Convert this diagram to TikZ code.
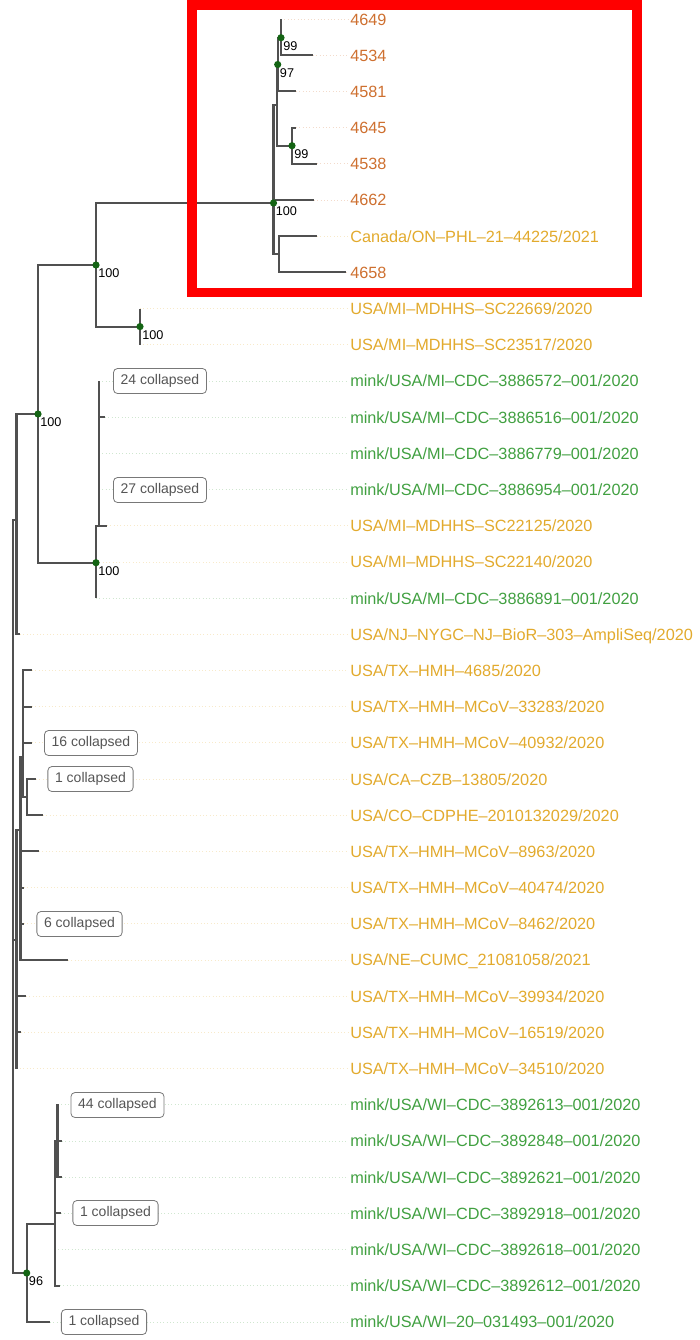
\documentclass[tikz,border=0pt]{standalone}
\usepackage{fontspec}
\setmainfont{Liberation Sans}
\usetikzlibrary{calc,positioning}
\definecolor{tipor}{RGB}{206,112,48}
\definecolor{tipgo}{RGB}{226,170,45}
\definecolor{tipgr}{RGB}{65,160,65}
\definecolor{branchc}{RGB}{80,80,80}
\definecolor{dotc}{RGB}{20,100,20}
\definecolor{boxc}{RGB}{120,120,120}
\definecolor{boxtext}{RGB}{85,85,85}

\begin{document}
\begin{tikzpicture}[x=0.75pt,y=-0.75pt]
  \useasboundingbox (0,0) rectangle (700,1340);
  \tikzstyle{branch}=[draw=branchc, line width=1.6pt]
  \tikzstyle{leader}=[dotted, line width=0.5pt]
  \tikzstyle{tiplabel}=[anchor=base west, inner xsep=1.5pt, font=\fontsize{12.2}{14}\selectfont]
  \tikzstyle{bslabel}=[inner sep=0pt, font=\fontsize{9.5}{11}\selectfont]
  \tikzstyle{collbox}=[draw=boxc, line width=0.6pt, rounded corners=3pt, fill=white,
    text=boxtext, inner xsep=5.4pt, minimum height=18.75pt, font=\fontsize{10.5}{12}\selectfont]
  \tikzstyle{redbox}=[draw=red, line width=7.1pt]
  % tips and their labels
  \foreach \i/\tx/\col/\txt in {
    0/281/tipor/4649, 1/313/tipor/4534, 2/296/tipor/4581, 3/296/tipor/4645,
    4/317/tipor/4538, 5/314/tipor/4662, 6/317/tipgo/{Canada/ON--PHL--21--44225/2021},
    7/346/tipor/4658, 8/140/tipgo/{USA/MI--MDHHS--SC22669/2020},
    9/140/tipgo/{USA/MI--MDHHS--SC23517/2020},
    10/99/tipgr/{mink/USA/MI--CDC--3886572--001/2020},
    11/105/tipgr/{mink/USA/MI--CDC--3886516--001/2020},
    12/99/tipgr/{mink/USA/MI--CDC--3886779--001/2020},
    13/99/tipgr/{mink/USA/MI--CDC--3886954--001/2020},
    14/107/tipgo/{USA/MI--MDHHS--SC22125/2020},
    15/96/tipgo/{USA/MI--MDHHS--SC22140/2020},
    16/96/tipgr/{mink/USA/MI--CDC--3886891--001/2020},
    17/20/tipgo/{USA/NJ--NYGC--NJ--BioR--303--AmpliSeq/2020},
    18/32/tipgo/{USA/TX--HMH--4685/2020},
    19/32/tipgo/{USA/TX--HMH--MCoV--33283/2020},
    20/32/tipgo/{USA/TX--HMH--MCoV--40932/2020},
    21/36/tipgo/{USA/CA--CZB--13805/2020},
    22/43/tipgo/{USA/CO--CDPHE--2010132029/2020},
    23/39/tipgo/{USA/TX--HMH--MCoV--8963/2020},
    24/24/tipgo/{USA/TX--HMH--MCoV--40474/2020},
    25/24/tipgo/{USA/TX--HMH--MCoV--8462/2020},
    26/68/tipgo/{USA/NE--CUMC\_21081058/2021},
    27/26/tipgo/{USA/TX--HMH--MCoV--39934/2020},
    28/21/tipgo/{USA/TX--HMH--MCoV--16519/2020},
    29/16.5/tipgo/{USA/TX--HMH--MCoV--34510/2020},
    30/58/tipgr/{mink/USA/WI--CDC--3892613--001/2020},
    31/62/tipgr/{mink/USA/WI--CDC--3892848--001/2020},
    32/62/tipgr/{mink/USA/WI--CDC--3892621--001/2020},
    33/61/tipgr/{mink/USA/WI--CDC--3892918--001/2020},
    34/55/tipgr/{mink/USA/WI--CDC--3892618--001/2020},
    35/60/tipgr/{mink/USA/WI--CDC--3892612--001/2020},
    36/50/tipgr/{mink/USA/WI--20--031493--001/2020}}{
    \coordinate (t\i) at (\tx,{19+36.19*\i});
    \node[tiplabel,text=\col] (l\i) at (348,{25+36.19*\i}) {\txt};
    \draw[leader,\col!25] (t\i) -- (t\i -| l\i.west);
  }
  % internal nodes
  \coordinate (n99a) at (281,37.7);
  \coordinate (n97) at (277.7,64.5);
  \coordinate (n99b) at (292,145.7);
  \coordinate (nC) at (277,105);
  \coordinate (nD) at (279.3,254.2);
  \coordinate (nA) at (273.5,203);
  \coordinate (nE) at (96,265);
  \coordinate (nF) at (140,326.6);
  \coordinate (nJ) at (99,525.7);
  \coordinate (nH) at (96,562.7);
  \coordinate (nG) at (38,414);
  \coordinate (nM) at (16.5,520);
  \coordinate (nT2) at (27.3,797);
  \coordinate (nT1) at (23.3,757);
  \coordinate (nP) at (20.5,830);
  \coordinate (nN) at (16.5,940);
  \coordinate (nW2) at (57.5,1141);
  \coordinate (nW) at (55,1224);
  \coordinate (n96) at (26.7,1273);
  \coordinate (nR) at (13,900);
  % branches
  \foreach \p/\c in {n99a/t0, n99a/t1, n97/n99a, n97/t2, n99b/t3, n99b/t4,
    nC/n97, nC/n99b, nA/nC, nA/t5, nA/nD, nD/t6, nD/t7,
    nE/nA, nE/nF, nF/t8, nF/t9, nG/nE, nG/nH,
    nH/nJ, nH/t15, nH/t16, nJ/t10, nJ/t11, nJ/t12, nJ/t13, nJ/t14,
    nM/nG, nM/t17, nT2/t21, nT2/t22, nT1/t18, nT1/t19, nT1/t20, nT1/nT2,
    nP/nT1, nP/t23, nP/t24, nP/t25, nP/t26, nN/nP, nN/t27, nN/t28, nN/t29,
    nW2/t30, nW2/t31, nW2/t32, nW/nW2, nW/t33, nW/t34, nW/t35,
    n96/nW, n96/t36, nR/nM, nR/nN, nR/n96}{
    \draw[branch] (\p) |- (\c);
  }
  % support values
  \foreach \n/\v in {n99a/99, n97/97, n99b/99, nA/100, nE/100, nF/100, nG/100, nH/100, n96/96}{
    \fill[dotc] (\n) circle[radius=2.7pt];
    \node[bslabel,anchor=north west] (b\n) at ([shift={(2,3.5)}]\n) {\v};
  }
  % collapsed clades
  \node[collbox] (col24) at (160,381) {24 collapsed};
  \node[collbox] (col27) at (160,490) {27 collapsed};
  \node[collbox] (col16) at (91,743) {16 collapsed};
  \node[collbox] (colca) at (90.5,779) {1 collapsed};
  \node[collbox] (col6) at (79.5,924) {6 collapsed};
  \node[collbox] (col44) at (117.5,1105) {44 collapsed};
  \node[collbox] (colwi) at (115.5,1213) {1 collapsed};
  \node[collbox] (colwt) at (104,1322) {1 collapsed};
  % highlighted clade
  \draw[redbox] (192,5) rectangle (637,292.5);
\end{tikzpicture}
\end{document}
